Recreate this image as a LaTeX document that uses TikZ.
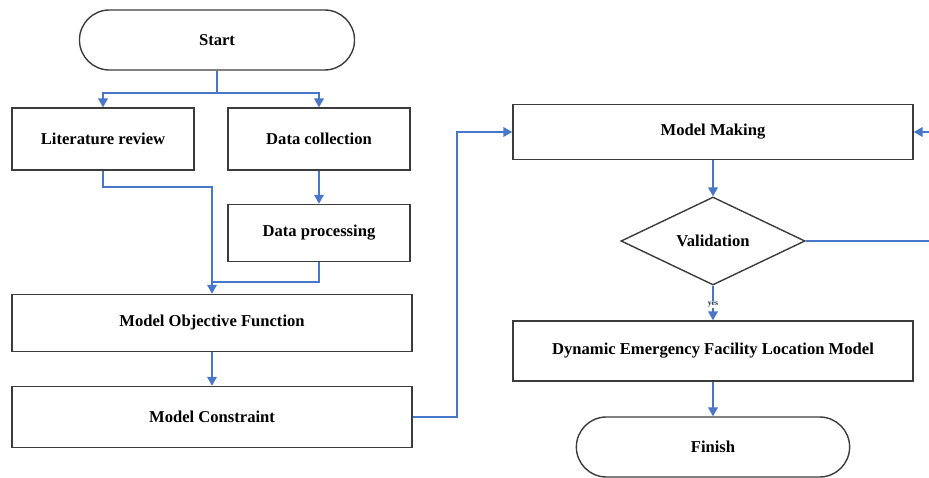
\documentclass[tikz,border=0pt]{standalone}
\usepackage{fontspec}
\setmainfont{Liberation Serif}
\usetikzlibrary{shapes.geometric, arrows.meta}
\definecolor{linkblue}{RGB}{72,118,200}
\definecolor{boxline}{RGB}{60,60,60}
\tikzset{
  procbox/.style={draw=boxline, line width=1pt, fill=white, inner sep=2pt, font=\bfseries\fontsize{11.8}{13}\selectfont},
  termbox/.style={procbox, rounded corners=0.75cm, minimum height=1.5cm},
  decbox/.style={procbox, diamond, aspect=2, inner sep=0pt},
  link/.style={linkblue, line width=0.9pt},
  flow/.style={link, -{Triangle[length=2.2mm, width=2.4mm]}}
}
\begin{document}
\begin{tikzpicture}[x=0.025cm, y=-0.025cm]
\useasboundingbox (0,0) rectangle (929,478);

% left column
\node[termbox, minimum width=6.875cm] (start) at (217,40) {Start};
\node[procbox, minimum width=4.55cm, minimum height=1.55cm] (lit) at (103,139) {Literature review};
\node[procbox, minimum width=4.55cm, minimum height=1.55cm] (collect) at (319,139) {Data collection};
\node[procbox, minimum width=4.55cm, minimum height=1.43cm] (process) at (319,233) {Data processing};
\node[procbox, minimum width=10cm, minimum height=1.43cm] (objective) at (212,323) {Model Objective Function};
\node[procbox, minimum width=10cm, minimum height=1.53cm] (constraint) at (212,417) {Model Constraint};

% right column
\node[procbox, minimum width=10cm, minimum height=1.38cm] (making) at (713,132) {Model Making};
\node[decbox, minimum width=4.6cm, minimum height=2.2cm] (valid) at (713,241) {Validation};
\node[procbox, minimum width=10cm, minimum height=1.5cm] (dynamic) at (713,351) {Dynamic Emergency Facility Location Model};
\node[termbox, minimum width=6.83cm] (finish) at (713,447) {Finish};

% joints
\coordinate (split) at (217,93);
\coordinate (merge) at (212,282);

% connectors
\draw[link] (start.south) -- (split);
\draw[flow] (split) -| (lit.north);
\draw[flow] (split) -| (collect.north);
\draw[flow] (collect) -- (process);
\draw[link] (lit.south) |- (212,187) -- (merge);
\draw[link] (process.south) |- (merge);
\draw[flow] (merge) -- (objective.north);
\draw[flow] (objective) -- (constraint);
\draw[flow] (constraint.east) -| (457,132) -- (making.west);
\draw[flow] (making) -- (valid);
\draw[flow] (valid) -- node[pos=0.55, fill=white, text=linkblue!40!black, inner sep=0.6pt, font=\fontsize{5.5}{5.5}\selectfont\bfseries] {yes} (dynamic);
\draw[flow] (dynamic) -- (finish);
\draw[flow] (valid.east) -- (960,241) |- (making.east);
\end{tikzpicture}
\end{document}
